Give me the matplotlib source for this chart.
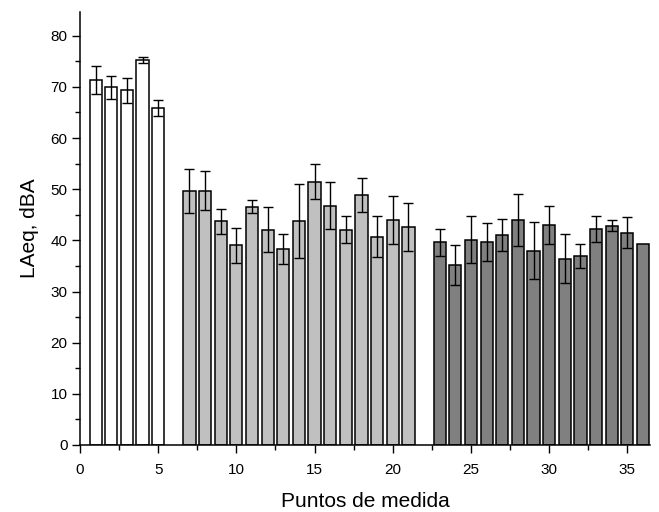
import numpy as np
import matplotlib
matplotlib.use("Agg")
import matplotlib.pyplot as plt
from matplotlib.ticker import MultipleLocator

plt.rcParams['font.family'] = ['Liberation Sans', 'DejaVu Sans']

# Group 1 (white bars)
x_white = [1, 2, 3, 4, 5]
laeq_white = [71.3, 69.9, 69.3, 75.2, 65.9]
err_white = [2.7, 2.2, 2.4, 0.6, 1.5]

# Group 2 (light gray bars)
x_light = list(range(7, 22))
laeq_light = [49.6, 49.7, 43.7, 39.0, 46.6, 42.1, 38.3, 43.8, 51.5, 46.8,
              42.1, 48.9, 40.7, 44.0, 42.6]
err_light = [4.35, 3.8, 2.5, 3.5, 1.2, 4.45, 2.85, 7.3, 3.35, 4.65,
             2.7, 3.3, 4.0, 4.7, 4.75]

# Group 3 (dark gray bars)
x_dark = list(range(23, 37))
laeq_dark = [39.6, 35.2, 40.1, 39.6, 41.0, 44.0, 38.0, 43.0, 36.4, 36.9,
             42.2, 42.9, 41.5, 39.3]
err_dark = [2.6, 3.9, 4.6, 3.7, 3.1, 5.1, 5.5, 3.7, 4.8, 2.3,
            2.6, 1.1, 3.0, 0.0]

fig = plt.figure(figsize=(6.59, 5.12), dpi=100)
ax = fig.add_axes([0.1214, 0.1309, 0.865, 0.8463])

groups = [
    (x_white, laeq_white, err_white, '#ffffff'),
    (x_light, laeq_light, err_light, '#c0c0c0'),
    (x_dark, laeq_dark, err_dark, '#808080'),
]

for xs, vals, errs, color in groups:
    xs = np.array(xs)
    vals = np.array(vals)
    errs = np.array(errs)
    ax.bar(xs, vals, width=0.78, color=color, edgecolor='black',
           linewidth=1.1, zorder=2)
    # only draw error bars where an error exists
    m = errs > 0
    ax.errorbar(xs[m], vals[m], yerr=errs[m], fmt='none', ecolor='black',
                elinewidth=1.0, capsize=3.3, capthick=1.0, zorder=3)

ax.set_xlim(0, 36.45)
ax.set_ylim(0, 84.7)

ax.xaxis.set_major_locator(MultipleLocator(5))
ax.xaxis.set_minor_locator(MultipleLocator(2.5))
ax.yaxis.set_major_locator(MultipleLocator(10))
ax.yaxis.set_minor_locator(MultipleLocator(5))

ax.spines['top'].set_visible(False)
ax.spines['right'].set_visible(False)
for s in ('left', 'bottom'):
    ax.spines[s].set_linewidth(1.1)

ax.tick_params(which='major', direction='out', length=6, width=1.0,
               labelsize=11, pad=3)
ax.tick_params(which='minor', direction='out', length=3.5, width=1.0)
ax.tick_params(axis='x', which='major', pad=7)

ax.set_xlabel('Puntos de medida', fontsize=15, labelpad=11)
ax.set_ylabel('LAeq, dBA', fontsize=15, labelpad=8)

fig.savefig('out.png', dpi=100)
